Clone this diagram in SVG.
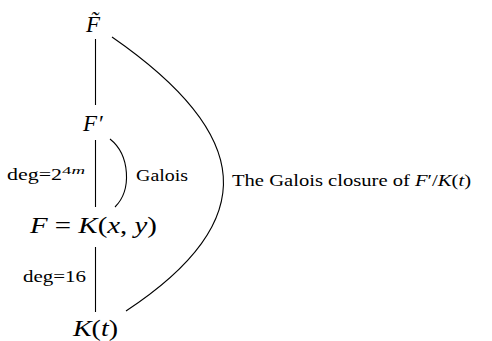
<svg xmlns="http://www.w3.org/2000/svg" width="492" height="341" viewBox="0 0 492 341">
<style>
.m{font-family:"Liberation Serif","DejaVu Serif",serif;font-style:italic;fill:#000}
.r{font-family:"Liberation Serif","DejaVu Serif",serif;font-style:normal;fill:#000}
.node{font-size:23px}
.lbl{font-size:16px}
.edge{fill:none;stroke:#000;stroke-width:1.1}
</style>
<rect width="492" height="341" fill="#fff"/>
<g id="connectors">
<line class="edge" x1="95.5" y1="39" x2="95.5" y2="105"/>
<line class="edge" x1="95.5" y1="140" x2="95.5" y2="207"/>
<line class="edge" x1="95.5" y1="247" x2="95.5" y2="312"/>
<path class="edge" d="M110,139 C130,155 132,190 115,207"/>
<path class="edge" d="M112,37 C252,134 264,220 126,311"/>
</g>
<g id="node-Ftilde">
<text class="m node" x="86" y="32">F&#x303;</text>
</g>
<g id="node-Fprime">
<text class="m node" x="83" y="131">F<tspan class="r" dx="2">′</tspan></text>
</g>
<g id="node-F">
<text class="node m" x="30" y="233" textLength="127" lengthAdjust="spacingAndGlyphs">F <tspan class="r">=</tspan> K<tspan class="r">(</tspan>x<tspan class="r">, </tspan>y<tspan class="r">)</tspan></text>
</g>
<g id="node-Kt">
<text class="node m" x="73" y="336" textLength="45" lengthAdjust="spacingAndGlyphs">K<tspan class="r">(</tspan>t<tspan class="r">)</tspan></text>
</g>
<g id="labels">
<text class="r lbl" x="7" y="180" textLength="55" lengthAdjust="spacingAndGlyphs">deg=2</text>
<text class="r" x="62" y="174" style="font-size:11px" textLength="23" lengthAdjust="spacingAndGlyphs">4<tspan class="m">m</tspan></text>
<text class="r lbl" x="136" y="181" textLength="52" lengthAdjust="spacingAndGlyphs">Galois</text>
<text class="r lbl" x="23" y="282" textLength="63" lengthAdjust="spacingAndGlyphs">deg=16</text>
<text class="r lbl" x="232" y="186" textLength="239" lengthAdjust="spacingAndGlyphs">The Galois closure of <tspan class="m">F</tspan>′/<tspan class="m">K</tspan>(<tspan class="m">t</tspan>)</text>
</g>
</svg>
